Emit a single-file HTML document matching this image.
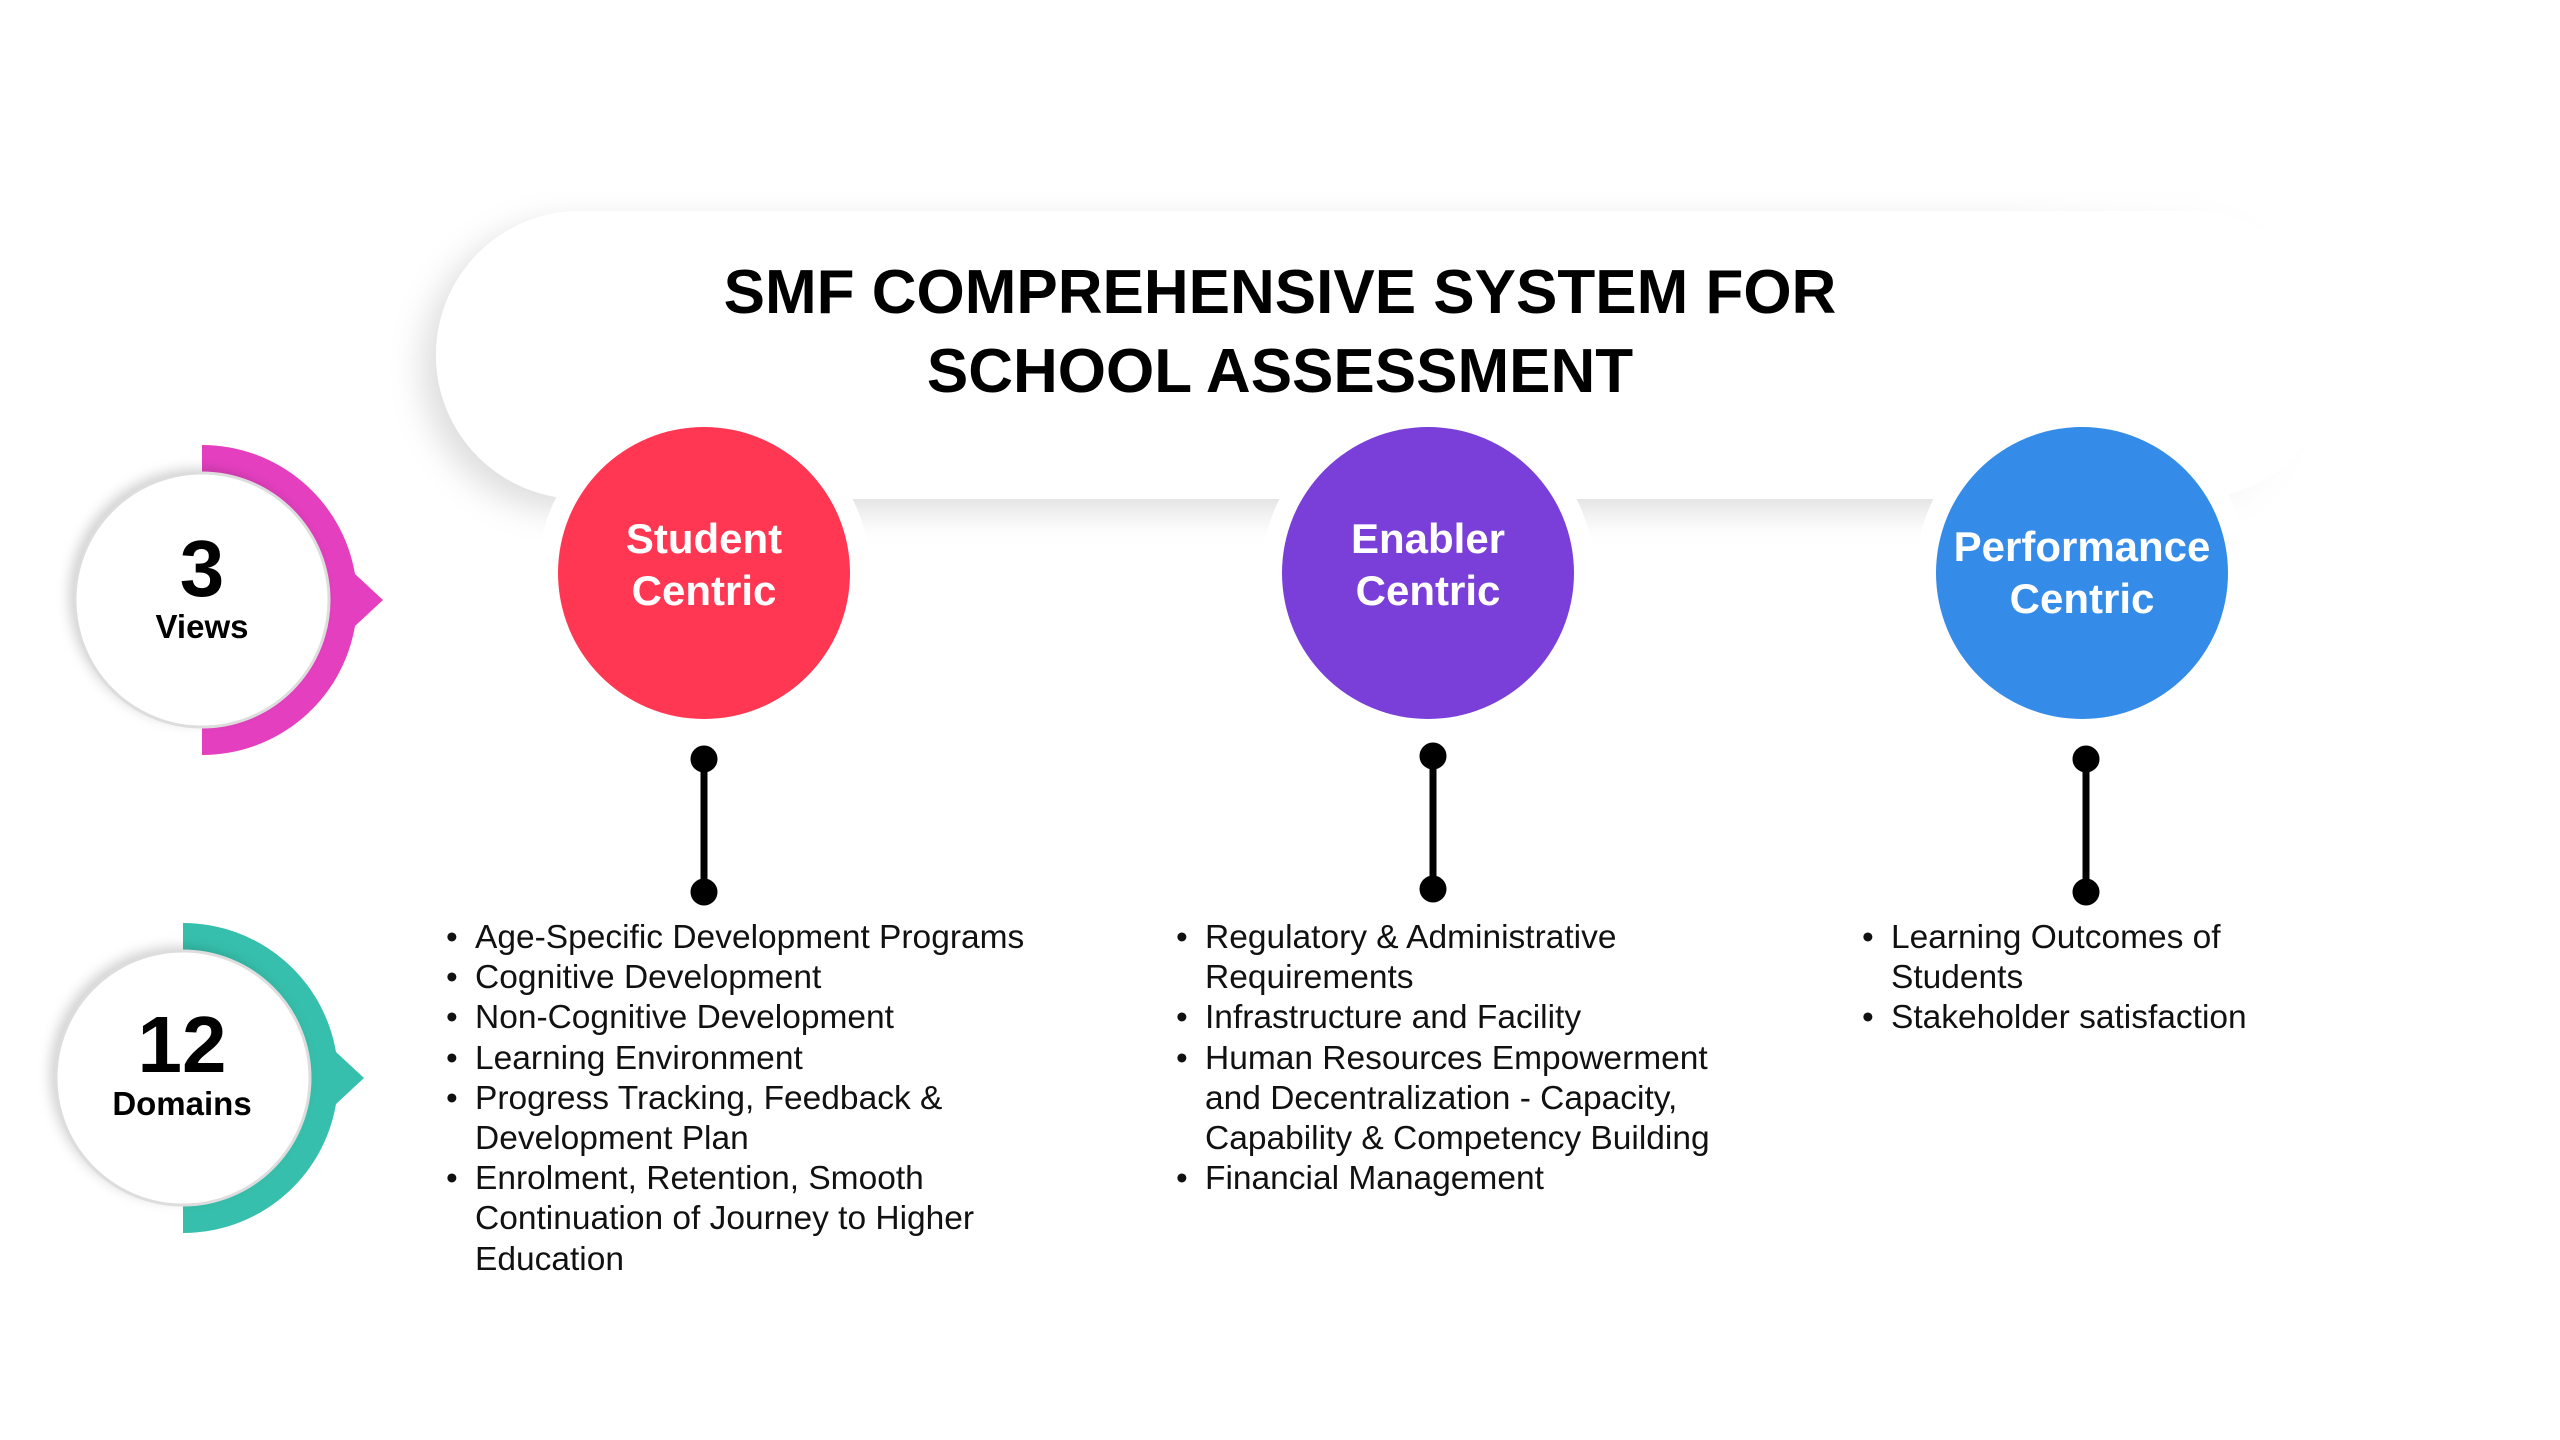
<!DOCTYPE html>
<html><head><meta charset="utf-8"><style>
html,body{margin:0;padding:0;background:#fff;}
body{width:2560px;height:1440px;position:relative;overflow:hidden;font-family:"Liberation Sans",sans-serif;}
.t{position:absolute;white-space:nowrap;}
.title{left:0;width:2560px;text-align:center;font-weight:bold;font-size:62px;color:#000;line-height:80px;}
.ct{position:absolute;color:#fff;font-weight:bold;font-size:42px;line-height:52px;text-align:center;width:320px;}
ul{position:absolute;margin:0;padding:0;list-style:none;font-size:33.5px;line-height:40.2px;color:#111;}
li{position:relative;padding-left:29px;white-space:nowrap;}
li:before{content:"•";position:absolute;left:0;}
</style></head><body>
<svg width="2560" height="1440" style="position:absolute;left:0;top:0">
<defs>
<filter id="sh" x="-20%" y="-40%" width="140%" height="180%"><feDropShadow dx="-14" dy="12" stdDeviation="16" flood-color="#000" flood-opacity="0.13"/></filter>
<filter id="sh2" x="-30%" y="-30%" width="160%" height="160%"><feDropShadow dx="-6" dy="-4" stdDeviation="6" flood-color="#000" flood-opacity="0.18"/></filter>
<linearGradient id="fade" x1="0" x2="1"><stop offset="0" stop-color="#fff" stop-opacity="0"/><stop offset="0.6" stop-color="#fff" stop-opacity="1"/></linearGradient>
</defs>
<rect x="436" y="211" width="1900" height="288" rx="144" fill="#fff" filter="url(#sh)"/>
<rect x="1980" y="170" width="560" height="380" fill="url(#fade)"/>
<circle cx="704" cy="573" r="166" fill="#fff"/>
<circle cx="1428" cy="573" r="166" fill="#fff"/>
<circle cx="2082" cy="573" r="166" fill="#fff"/>
<circle cx="704" cy="573" r="146" fill="#ff3753"/>
<circle cx="1428" cy="573" r="146" fill="#7a3fd8"/>
<circle cx="2082" cy="573" r="146" fill="#348be8"/>
<g fill="#000" stroke="#000" stroke-width="7">
<line x1="704" y1="759" x2="704" y2="892"/><circle cx="704" cy="759" r="10"/><circle cx="704" cy="892" r="10"/>
<line x1="1433" y1="756" x2="1433" y2="889"/><circle cx="1433" cy="756" r="10"/><circle cx="1433" cy="889" r="10"/>
<line x1="2086" y1="759" x2="2086" y2="892"/><circle cx="2086" cy="759" r="10"/><circle cx="2086" cy="892" r="10"/>
</g>
<path d="M202 445 A155 155 0 0 1 355 574 L383 600 L355 626 A155 155 0 0 1 202 755 Z" fill="#e43fbf"/>
<circle cx="202" cy="600" r="127" fill="#fff" filter="url(#sh2)"/>
<circle cx="202" cy="600" r="127" fill="none" stroke="#ddd" stroke-width="3"/>
<path d="M183 923 A155 155 0 0 1 336 1052 L364 1078 L336 1104 A155 155 0 0 1 183 1233 Z" fill="#36bfac"/>
<circle cx="183" cy="1078" r="127" fill="#fff" filter="url(#sh2)"/>
<circle cx="183" cy="1078" r="127" fill="none" stroke="#ddd" stroke-width="3"/>
</svg>
<div class="t title" style="top:253px">SMF COMPREHENSIVE SYSTEM FOR</div>
<div class="t title" style="top:332px">SCHOOL ASSESSMENT</div>
<div class="ct" style="left:544px;top:513px">Student<br>Centric</div>
<div class="ct" style="left:1268px;top:513px">Enabler<br>Centric</div>
<div class="ct" style="left:1922px;top:521px">Performance<br>Centric</div>
<div class="t" style="left:102px;width:200px;text-align:center;top:524px;font-size:80px;font-weight:bold;line-height:90px">3</div>
<div class="t" style="left:102px;width:200px;text-align:center;top:608px;font-size:33px;font-weight:bold">Views</div>
<div class="t" style="left:82px;width:200px;text-align:center;top:1000px;font-size:80px;font-weight:bold;line-height:90px">12</div>
<div class="t" style="left:82px;width:200px;text-align:center;top:1085px;font-size:33px;font-weight:bold">Domains</div>
<ul style="left:446px;top:918px">
<li>Age-Specific Development Programs</li>
<li>Cognitive Development</li>
<li>Non-Cognitive Development</li>
<li>Learning Environment</li>
<li>Progress Tracking, Feedback &amp;<br>Development Plan</li>
<li>Enrolment, Retention, Smooth<br>Continuation of Journey to Higher<br>Education</li>
</ul>
<ul style="left:1176px;top:918px">
<li>Regulatory &amp; Administrative<br>Requirements</li>
<li>Infrastructure and Facility</li>
<li>Human Resources Empowerment<br>and Decentralization - Capacity,<br>Capability &amp; Competency Building</li>
<li>Financial Management</li>
</ul>
<ul style="left:1862px;top:918px">
<li>Learning Outcomes of<br>Students</li>
<li>Stakeholder satisfaction</li>
</ul>
</body></html>
